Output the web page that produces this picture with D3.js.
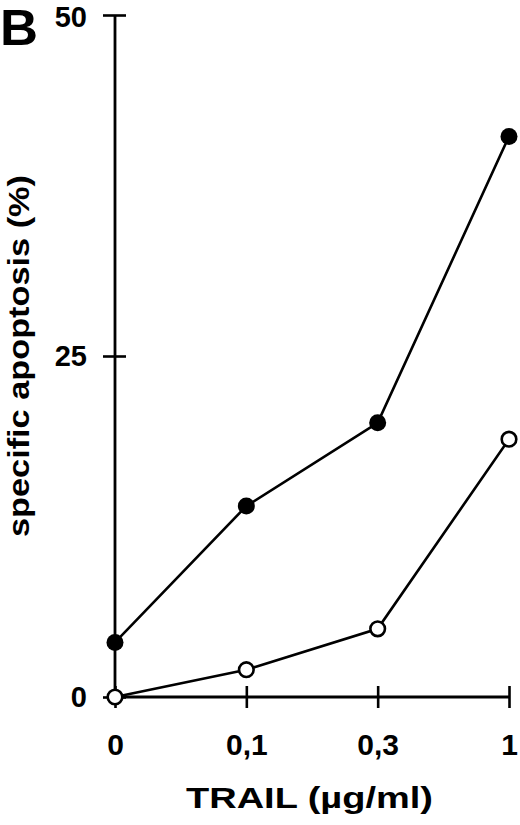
<!DOCTYPE html>
<html>
<head>
<meta charset="utf-8">
<script src="https://cdn.jsdelivr.net/npm/d3@7"></script>
<style>
  html, body { margin: 0; padding: 0; background: #fff; }
  svg { display: block; }
  text { font-family: "Liberation Sans", Arial, Helvetica, sans-serif; font-weight: bold; fill: #000; }
</style>
</head>
<body>
<svg id="chart" width="520" height="825"></svg>
<script>
const categories = ["0", "0,1", "0,3", "1"];
const filledSeries = [4.0, 14.0, 20.1, 41.1];
const openSeries = [0.0, 2.0, 5.0, 18.9];
const yTicks = [0, 25, 50];
const panelLabel = "B";
const xTitle = "TRAIL (µg/ml)";
const yTitle = "specific apoptosis (%)";

const svg = d3.select("#chart");

const x = d3.scalePoint().domain(categories).range([115, 509]);
const y = d3.scaleLinear().domain([0, 50]).range([697, 15]);

// Y axis
const yAxis = svg.append("g")
  .attr("transform", "translate(115,0)")
  .call(d3.axisLeft(y).tickValues(yTicks).tickFormat(d3.format("d")).tickSizeInner(12).tickSizeOuter(0).tickPadding(16));
yAxis.select(".domain").remove();
yAxis.selectAll(".tick line").attr("x1", -12).attr("x2", 11).attr("stroke", "#000").attr("stroke-width", 2.6);
yAxis.selectAll(".tick text").style("font-size", "29px").style("font-family", "'Liberation Sans', Arial, sans-serif").style("font-weight", "bold")
  .attr("dy", d => d === 50 ? "0.4em" : "0.34em");
yAxis.append("line").attr("x1", 0).attr("x2", 0).attr("y1", y(0)).attr("y2", y(50)).attr("stroke", "#000").attr("stroke-width", 2.8);

// X axis
const xAxis = svg.append("g")
  .attr("transform", "translate(0,697)")
  .call(d3.axisBottom(x).tickSizeInner(12).tickSizeOuter(0).tickPadding(25));
xAxis.select(".domain").remove();
xAxis.selectAll(".tick line").attr("y1", -11).attr("y2", 11).attr("stroke", "#000").attr("stroke-width", 2.6);
xAxis.selectAll(".tick text").style("font-size", "30px").style("font-family", "'Liberation Sans', Arial, sans-serif").style("font-weight", "bold");
xAxis.append("line").attr("x1", x(categories[0])).attr("x2", x(categories[categories.length - 1])).attr("y1", 0).attr("y2", 0).attr("stroke", "#000").attr("stroke-width", 2.8);

// Lines
const line = d3.line().x((d, i) => x(categories[i])).y(d => y(d));
svg.append("path").datum(openSeries).attr("d", line).attr("fill", "none").attr("stroke", "#000").attr("stroke-width", 2.6);
svg.append("path").datum(filledSeries).attr("d", line).attr("fill", "none").attr("stroke", "#000").attr("stroke-width", 2.6);

// Markers
svg.selectAll("circle.filled").data(filledSeries).enter().append("circle")
  .attr("class", "filled")
  .attr("cx", (d, i) => x(categories[i])).attr("cy", d => y(d))
  .attr("r", 8.5).attr("fill", "#000");
svg.selectAll("circle.open").data(openSeries).enter().append("circle")
  .attr("class", "open")
  .attr("cx", (d, i) => x(categories[i])).attr("cy", d => y(d))
  .attr("r", 7.3).attr("fill", "#fff").attr("stroke", "#000").attr("stroke-width", 2.6);

// Titles
svg.append("text").attr("x", 186).attr("y", 808)
  .attr("textLength", 247).attr("lengthAdjust", "spacingAndGlyphs")
  .style("font-size", "30px").text(xTitle);
svg.append("text").attr("transform", "translate(29,537) rotate(-90)")
  .attr("textLength", 362).attr("lengthAdjust", "spacingAndGlyphs")
  .style("font-size", "30px").text(yTitle);
svg.append("text").attr("x", 0).attr("y", 45)
  .attr("textLength", 38).attr("lengthAdjust", "spacingAndGlyphs")
  .style("font-size", "50px").text(panelLabel);
</script>
</body>
</html>
